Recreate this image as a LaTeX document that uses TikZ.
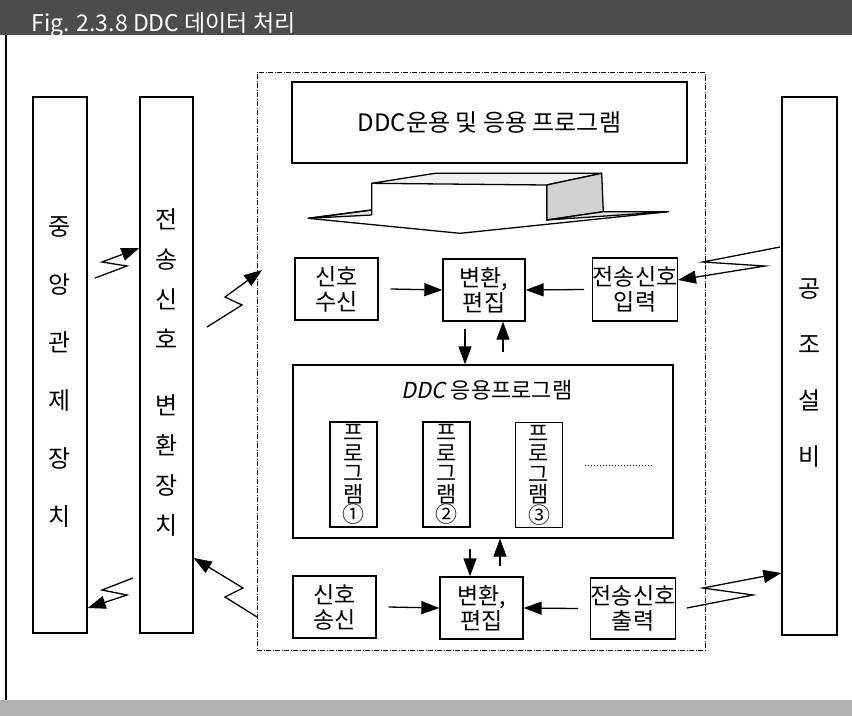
\documentclass[tikz,border=0pt]{standalone}
\usepackage{fontspec}
\setmainfont{Noto Sans CJK KR}
\newfontfamily\ddcfont[FakeSlant=0.2]{Noto Sans CJK KR}
\usetikzlibrary{arrows.meta, calc}

\begin{document}
\begin{tikzpicture}[
    x=1pt, y=-1pt,
    >={Triangle[length=18pt, width=13pt]},
    font=\fontsize{23}{25}\selectfont,
    box/.style={draw, line width=1.3pt, inner sep=0pt, align=center},
    col/.style={box, minimum width=54pt, minimum height=536pt},
    coltext/.style={align=center, inner sep=0pt},
    blk/.style={box, minimum width=83pt, minimum height=62pt},
    prog/.style={box, minimum width=47pt, minimum height=105pt,
                 font=\fontsize{22}{20.5}\selectfont},
    arr/.style={->, line width=1.3pt},
    zz/.style={->, line width=1.3pt, line join=miter},
]
\useasboundingbox (0,0) rectangle (852,716);

% === Frame and title ===
\fill[black!70] (0,0) rectangle (852,35);
\fill[black!30] (0,700) rectangle (852,716);
\draw[line width=2pt] (6,35) -- (6,700);
\node[anchor=base west, text=white, font=\fontsize{23}{25}\selectfont] (title)
     at (28,31) {Fig. 2.3.8 DDC 데이터 처리};

% === Side columns ===
\node[col] (cc) at (60,365) {};
\node[coltext, font=\fontsize{24}{58}\selectfont] (cc-t) at (60,372)
     {중\\앙\\관\\제\\장\\치};
\node[col, minimum width=53pt] (tx) at (166.5,365) {};
\node[coltext, font=\fontsize{24}{40}\selectfont] (tx-t) at (166.5,373)
     {전\\송\\신\\호\\[26pt]변\\환\\장\\치};
\node[col, minimum width=55pt, minimum height=538pt] (ac) at (809.5,366) {};
\node[coltext, font=\fontsize{24}{56}\selectfont] (ac-t) at (809.5,373)
     {공\\조\\설\\비};

% === DDC unit (dashed) ===
\node[draw, line width=0.8pt, dash pattern=on 5pt off 1.5pt on 1pt off 1.5pt,
      minimum width=448pt, minimum height=578pt] (dcu) at (481,361) {};

\node[box, minimum width=395pt, minimum height=81pt,
      font=\fontsize{24}{25}\selectfont] (os) at (489.5,122.5)
     {DDC운용 및 응용 프로그램};

% big down arrow
\filldraw[fill=gray!12, line width=1.3pt, line join=round]
    (371.7,183.3) -- (435,173.3) -- (601.7,173.3) -- (546.7,185) -- cycle;
\filldraw[fill=gray!35, line width=1.3pt, line join=round]
    (546.7,185) -- (601.7,173.3) -- (603.3,211.7) -- (546.7,220) -- cycle;
\filldraw[fill=gray!20, line width=1.3pt, line join=round]
    (546.7,220) -- (603.3,211.7) -- (668.3,211.7) -- cycle;
\filldraw[fill=gray!20, line width=1.3pt, line join=round]
    (371.7,210) -- (308.3,218.3) -- (371.7,215) -- cycle;
\draw[line width=1.3pt, line join=round]
    (371.7,183.3) -- (371.7,210) -- (308.3,218.3) -- (460,233.3)
    -- (668.3,211.7) (546.7,185) -- (546.7,220);

% === Input row ===
\node[blk] (rx) at (336.5,289) {신호\\수신};
\node[blk, minimum width=82pt] (ce1) at (484,290) {변환,\\편집};
\node[blk, minimum width=84pt, minimum height=63pt] (in) at (635,289.5) {전송신호\\입력};

% === DDC application ===
\node[box, minimum width=380pt, minimum height=173pt] (app) at (483,451.5) {};
\node[font=\fontsize{22}{25}\selectfont] (apptitle) at (487,390)
     {{\ddcfont DDC} 응용프로그램};
\node[prog] (p1) at (353.5,474.5) {프\\로\\그\\램\\①};
\node[prog] (p2) at (446.5,474.5) {프\\로\\그\\램\\②};
\node[prog] (p3) at (539,475) {프\\로\\그\\램\\③};
\draw[line width=1pt, dotted] (585,465) -- (652,465);

% === Output row ===
\node[blk] (sd) at (334.5,607) {신호\\송신};
\node[blk] (ce2) at (481.5,608) {변환,\\편집};
\node[blk, minimum width=82pt, minimum height=61pt] (out) at (633,608.5) {전송신호\\출력};

% === Arrows inside ===
\draw[arr] ([xshift=12pt]rx.east) -- (ce1.west);
\draw[arr] ([xshift=-8pt]in.west) -- (ce1.east);
\draw[arr] ([xshift=-19pt,yshift=-7pt]ce1.south) -- ([xshift=-19pt]ce1.south |- app.north);
\draw[arr] ([xshift=19pt,yshift=12pt]ce1.south |- app.north) -- ([xshift=19pt]ce1.south);
\draw[arr] ([xshift=-11.5pt,yshift=-10pt]app.south -| ce2.north) -- ([xshift=-11.5pt]ce2.north);
\draw[arr] ([xshift=18.5pt,yshift=10pt]ce2.north) -- ([xshift=18.5pt]ce2.north |- app.south);
\draw[arr] ([xshift=12pt]sd.east) -- (ce2.west);
\draw[arr] ([xshift=-12pt]out.west) -- (ce2.east);

% === Transmission links (zigzag) ===
\coordinate (z1) at (95,278);   \coordinate (z1e) at (tx.west |- 0,248);
\coordinate (z2) at (207,327);  \coordinate (z2e) at (262,270);
\coordinate (z3) at (133,578);  \coordinate (z3e) at (cc.east |- 0,608);
\coordinate (z4) at (257,617);  \coordinate (z4e) at (tx.east |- 0,558);
\coordinate (z5) at (780,247);  \coordinate (z5e) at (in.east |- 0,280);
\coordinate (z6) at (687,608);  \coordinate (z6e) at (ac.west |- 0,573);

\draw[zz] (z1) -- ++(32,-12) -- ++(-25,-4) -- (z1e);
\draw[zz] (z2) -- ++(35,-22) -- ++(-17,-8) -- (z2e);
\draw[zz] (z3) -- ++(-31,12) -- ++(25,5) -- (z3e);
\draw[zz] (z4) -- ++(-32,-20) -- ++(18,-9) -- (z4e);
\draw[zz] (z5) -- ++(-77,15) -- ++(62,4) -- (z5e);
\draw[zz] (z6) -- ++(66,-13) -- ++(-50,-7) -- (z6e);

\end{tikzpicture}
\end{document}
